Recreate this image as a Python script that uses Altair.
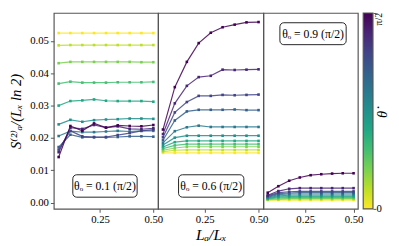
import altair as alt
import pandas as pd

# ---------------- data ----------------
X = [0.056, 0.111, 0.167, 0.222, 0.278, 0.333, 0.389, 0.444, 0.5]
THETA_FRAC = [0.0, 0.1, 0.2, 0.3, 0.4, 0.5, 0.6, 0.7, 0.8, 0.9, 1.0]
THETA0 = ["0.1", "0.6", "0.9"]
CB_TICKS = [0.0, 1.0]
CB_LABELS = ["0", "π/2"]

P1 = [
    [0.0524, 0.0524, 0.0524, 0.0524, 0.0524, 0.0524, 0.0524, 0.0524, 0.0524],
    [0.0486, 0.0487, 0.0487, 0.0487, 0.0487, 0.0487, 0.0487, 0.0487, 0.0487],
    [0.0431, 0.0435, 0.0435, 0.0435, 0.0435, 0.0435, 0.0435, 0.0434, 0.0434],
    [0.0368, 0.0374, 0.0371, 0.0371, 0.0371, 0.0372, 0.0372, 0.0372, 0.0373],
    [0.0300, 0.0314, 0.0316, 0.0319, 0.0315, 0.0314, 0.0314, 0.0314, 0.0312],
    [0.0242, 0.0256, 0.0250, 0.0255, 0.0257, 0.0258, 0.0260, 0.0260, 0.0259],
    [0.0206, 0.0221, 0.0218, 0.0218, 0.0220, 0.0222, 0.0220, 0.0222, 0.0222],
    [0.0172, 0.0210, 0.0202, 0.0202, 0.0202, 0.0203, 0.0205, 0.0205, 0.0204],
    [0.0164, 0.0222, 0.0205, 0.0203, 0.0203, 0.0209, 0.0215, 0.0222, 0.0226],
    [0.0156, 0.0232, 0.0228, 0.0240, 0.0232, 0.0236, 0.0228, 0.0227, 0.0230],
    [0.0141, 0.0237, 0.0222, 0.0245, 0.0232, 0.0239, 0.0237, 0.0236, 0.0240],
]
P2 = [
    [0.0154, 0.0154, 0.0154, 0.0154, 0.0154, 0.0154, 0.0154, 0.0154, 0.0154],
    [0.0158, 0.0162, 0.0163, 0.0163, 0.0163, 0.0163, 0.0163, 0.0163, 0.0163],
    [0.0162, 0.0169, 0.0173, 0.0173, 0.0173, 0.0173, 0.0173, 0.0173, 0.0173],
    [0.0167, 0.0177, 0.0181, 0.0181, 0.0181, 0.0181, 0.0181, 0.0181, 0.0181],
    [0.0172, 0.0187, 0.0191, 0.0191, 0.0191, 0.0191, 0.0191, 0.0191, 0.0191],
    [0.0178, 0.0201, 0.0207, 0.0207, 0.0207, 0.0207, 0.0207, 0.0207, 0.0207],
    [0.0185, 0.0221, 0.0233, 0.0238, 0.0234, 0.0234, 0.0234, 0.0234, 0.0234],
    [0.0193, 0.0254, 0.0282, 0.0287, 0.0287, 0.0287, 0.0288, 0.0286, 0.0286],
    [0.0202, 0.0279, 0.0311, 0.0330, 0.0330, 0.0333, 0.0332, 0.0333, 0.0334],
    [0.0212, 0.0307, 0.0361, 0.0388, 0.0392, 0.0411, 0.0410, 0.0411, 0.0412],
    [0.0226, 0.0357, 0.0435, 0.0493, 0.0525, 0.0542, 0.0550, 0.0557, 0.0558],
]
P3 = [
    [0.0008, 0.0008, 0.0008, 0.0008, 0.0008, 0.0008, 0.0008, 0.0008, 0.0008],
    [0.0009, 0.0010, 0.0011, 0.0011, 0.0011, 0.0011, 0.0011, 0.0011, 0.0011],
    [0.0010, 0.0012, 0.0013, 0.0013, 0.0013, 0.0013, 0.0013, 0.0013, 0.0013],
    [0.0012, 0.0015, 0.0016, 0.0016, 0.0016, 0.0016, 0.0016, 0.0016, 0.0016],
    [0.0013, 0.0018, 0.0019, 0.0019, 0.0019, 0.0019, 0.0019, 0.0019, 0.0019],
    [0.0015, 0.0021, 0.0023, 0.0023, 0.0023, 0.0023, 0.0023, 0.0023, 0.0023],
    [0.0017, 0.0025, 0.0027, 0.0027, 0.0027, 0.0027, 0.0027, 0.0027, 0.0027],
    [0.0019, 0.0028, 0.0030, 0.0031, 0.0031, 0.0031, 0.0031, 0.0031, 0.0031],
    [0.0021, 0.0031, 0.0034, 0.0035, 0.0035, 0.0035, 0.0035, 0.0035, 0.0035],
    [0.0023, 0.0036, 0.0043, 0.0045, 0.0045, 0.0045, 0.0045, 0.0045, 0.0045],
    [0.0031, 0.0051, 0.0068, 0.0078, 0.0085, 0.0088, 0.0090, 0.0091, 0.0091],
]

VIRIDIS = ["#440154", "#482475", "#414487", "#355f8d", "#2a788e", "#21918c",
           "#22a884", "#44bf70", "#7ad151", "#bddf26", "#fde725"]

FONT = "Liberation Serif, DejaVu Serif, serif"
H = 201
XDOM = [0.0333, 0.5222]
YDOM = [-0.0019, 0.0586]
FRAME = "#555"


def frame(series):
    rows = []
    for f, ys in zip(THETA_FRAC, series):
        for x, y in zip(X, ys):
            rows.append({"x": x, "y": y, "f": f})
    return pd.DataFrame(rows)


def panel(i, series, width, box):
    df = frame(series)
    xaxis = alt.Axis(values=[0.25, 0.5], format=".2f", tickSize=3.5, labelPadding=2,
                     grid=False, domain=False, titleFontSize=16, titleFontStyle="italic",
                     titlePadding=2, titleFont=FONT, titleFontWeight="normal")
    xscale = alt.Scale(domain=XDOM, nice=False, zero=False)
    if i == 1:
        xenc = alt.X("x:Q", scale=xscale, axis=xaxis, title="Lₐ/Lₓ")
    else:
        xenc = alt.X("x:Q", scale=xscale, axis=xaxis, title=None)
    yscale = alt.Scale(domain=YDOM, nice=False, zero=False)
    if i == 0:
        yenc = alt.Y("y:Q", scale=yscale,
                     axis=alt.Axis(values=[0, 0.01, 0.02, 0.03, 0.04, 0.05], format=".2f",
                                   tickSize=3.5, labelPadding=2, grid=False, domain=False,
                                   titleFontSize=15, titleFont=FONT, titleFontStyle="italic",
                                   titleFontWeight="normal", titlePadding=6),
                     title="S⁽²⁾ₐ/(Lₓ ln 2)")
    else:
        yenc = alt.Y("y:Q", scale=yscale, axis=None)
    color = alt.Color("f:Q", scale=alt.Scale(scheme="viridis", reverse=True, domain=[0, 1]),
                      legend=None)
    base = alt.Chart(df).encode(x=xenc, y=yenc, color=color, detail="f:N")
    lines = base.mark_line(strokeWidth=1.2, opacity=0.85)
    pts = base.mark_square(size=7, opacity=1)
    lab = pd.DataFrame({"t": ["θₒ = " + THETA0[i] + " (π/2)"]})
    x0, x1, y0, y1 = box
    rect = alt.Chart(lab).mark_rect(fill="white", stroke="#222", strokeWidth=1,
                                    cornerRadius=4).encode(
        x=alt.value(x0), x2=alt.value(x1), y=alt.value(y0), y2=alt.value(y1))
    txt = alt.Chart(lab).mark_text(font=FONT, fontSize=12, color="black").encode(
        x=alt.value((x0 + x1) / 2), y=alt.value((y0 + y1) / 2 + 0.5), text="t:N")
    return alt.layer(lines, pts, rect, txt).properties(width=width, height=H)


p1 = panel(0, P1, 107, (19.5, 85.5, 166, 189))
p2 = panel(1, P2, 108, (21, 88, 166, 189))
p3 = panel(2, P3, 97, (17, 85, 10, 32.5))

# colorbar
grad = alt.Gradient(
    gradient="linear",
    stops=[alt.GradientStop(offset=k / 10, color=c) for k, c in enumerate(VIRIDIS)],
    x1=0, x2=0, y1=0, y2=1,
)
one = pd.DataFrame({"v": [0.0]})
ticks = pd.DataFrame({"v": CB_TICKS, "lab": CB_LABELS})
cb_rect = alt.Chart(one).mark_rect(color=grad, stroke=FRAME, strokeWidth=1.2).encode(
    x=alt.value(5.5), x2=alt.value(15.5), y=alt.value(0), y2=alt.value(H))
cb_y = alt.Y("v:Q", scale=alt.Scale(domain=[0, 1], nice=False),
             axis=alt.Axis(orient="right", values=CB_TICKS, tickSize=3, labels=False,
                           grid=False, domain=False, offset=-0.5),
             title=None)
cb_axis = alt.Chart(ticks).mark_tick(opacity=0).encode(y=cb_y)
cb_zero = alt.Chart(ticks).transform_filter("datum.v == 0").mark_text(
    font=FONT, fontSize=11, color="black", align="left", baseline="middle").encode(
    x=alt.value(19), y=cb_y, text="lab:N")
cb_top = alt.Chart(ticks).transform_filter("datum.v == 1").mark_text(
    font=FONT, fontSize=10, color="black", angle=270, align="right", baseline="middle").encode(
    x=alt.value(21.5), y=cb_y, text="lab:N")
cb_title = alt.Chart(one).mark_text(angle=270, font=FONT, fontSize=15, fontStyle="italic",
                                    color="black", baseline="middle").encode(
    x=alt.value(24.5), y=alt.value(104), text=alt.value("θ̇"))
cb = alt.layer(cb_rect, cb_axis, cb_zero, cb_top, cb_title).properties(
    width=16, height=H, view=alt.ViewBackground(stroke="transparent"))

chart = alt.hconcat(p1, p2, p3, cb, spacing=0, bounds="flush").properties(padding=0).configure_view(
    stroke=FRAME, strokeWidth=1.2
).configure_axis(
    labelFont=FONT, labelFontSize=11, labelColor="black", tickColor=FRAME,
    titleColor="black"
)

chart.save("out.html", embed_options={"renderer": "svg", "actions": False})
